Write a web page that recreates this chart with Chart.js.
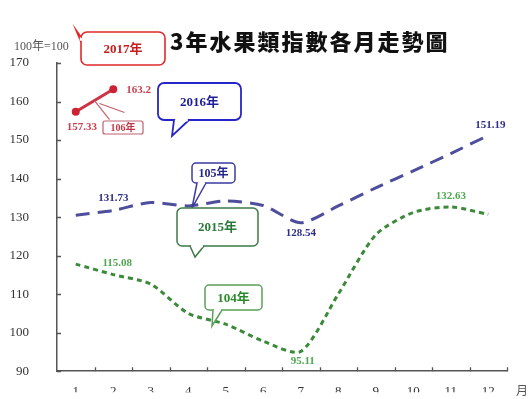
<!DOCTYPE html>
<html>
<head>
<meta charset="utf-8">
<script src="https://cdn.jsdelivr.net/npm/chart.js@4/dist/chart.umd.min.js"></script>
<style>
  html, body { margin: 0; padding: 0; background: #fff; }
  canvas { display: block; }
</style>
</head>
<body>
<canvas id="myChart" width="529" height="399"></canvas>
<script>
'use strict';

// months on the x axis
var months = ['1', '2', '3', '4', '5', '6', '7', '8', '9', '10', '11', '12'];
// y axis ticks
var yTicks = [90, 100, 110, 120, 130, 140, 150, 160, 170];

// fruit index by month (100年=100)
var idx104 = [117.8, 115.08, 112.6, 105.0, 102.2, 97.8, 95.11, 110.0, 125.4, 131.2, 132.63, 130.7];
var idx105 = [130.5, 131.73, 133.8, 132.9, 134.2, 133.0, 128.54, 132.9, 137.6, 142.0, 146.5, 151.19];
var idx106 = [157.33, 163.2];

// which points get a value printed next to them
var labels104 = [1, 6, 10];
var labels105 = [1, 6, 11];
var labels106 = [0, 1];

var serif = "'Liberation Serif', 'Noto Sans CJK TC', serif";

// short tick marks pointing into the plot
var innerTicks = {
  id: 'innerTicks',
  afterDraw: function (chart) {
    var ctx = chart.ctx, a = chart.chartArea;
    var y = chart.scales.y;
    ctx.save();
    ctx.strokeStyle = '#555';
    ctx.lineWidth = 1.3;
    ctx.beginPath();
    yTicks.forEach(function (v) {
      var py = Math.round(y.getPixelForValue(v)) + 0.5;
      ctx.moveTo(a.left, py);
      ctx.lineTo(a.left + 4, py);
    });
    var w = (a.right - a.left) / months.length;
    for (var i = 1; i <= months.length; i++) {
      var px = Math.round(a.left + i * w) + 0.5;
      ctx.moveTo(px, a.bottom);
      ctx.lineTo(px, a.bottom - 4);
    }
    ctx.stroke();
    ctx.restore();
  }
};

// value labels next to selected points
var valueLabels = {
  id: 'valueLabels',
  afterDatasetsDraw: function (chart) {
    var ctx = chart.ctx;
    var specs = [
      { ds: 0, idx: labels104, color: '#4fa64f', place: { 1: [4, -11], 6: [2, 10], 10: [0, -11] } },
      { ds: 1, idx: labels105, color: '#2e2e88', place: { 1: [0, -12], 6: [0, 10], 11: [2, -10] } },
      { ds: 2, idx: labels106, color: '#c8404f', place: { 0: [6, 15], 1: [13, 1] }, align: { 1: 'left' } }
    ];
    ctx.save();
    ctx.font = 'bold 11px ' + serif;
    ctx.textBaseline = 'middle';
    specs.forEach(function (s) {
      var meta = chart.getDatasetMeta(s.ds);
      var data = chart.data.datasets[s.ds].data;
      s.idx.forEach(function (i) {
        var pt = meta.data[i];
        var off = s.place[i];
        ctx.fillStyle = s.color;
        ctx.textAlign = (s.align && s.align[i]) || 'center';
        ctx.fillText(String(data[i]), pt.x + off[0], pt.y + off[1]);
      });
    });
    ctx.restore();
  }
};

// speech-bubble style notes
function bubble(ctx, b) {
  ctx.save();
  ctx.lineWidth = b.lw;
  ctx.strokeStyle = b.border;
  ctx.fillStyle = '#fff';
  ctx.beginPath();
  ctx.roundRect(b.x, b.y, b.w, b.h, b.r);
  ctx.fill();
  ctx.stroke();
  if (b.tail) {
    var t = b.tail;
    ctx.beginPath();
    ctx.moveTo(t[0], t[1]);
    ctx.lineTo(t[4], t[5]);
    ctx.lineTo(t[2], t[3]);
    ctx.closePath();
    ctx.fill();
    ctx.beginPath();
    ctx.moveTo(t[0], t[1]);
    ctx.lineTo(t[4], t[5]);
    ctx.lineTo(t[2], t[3]);
    ctx.stroke();
    // cover the border between the tail's base points
    ctx.strokeStyle = '#fff';
    ctx.lineWidth = b.lw + 1;
    ctx.beginPath();
    ctx.moveTo(t[0] + (t[0] === t[2] ? 0 : 1.2), t[1] + (t[1] === t[3] ? 0 : 1.2));
    ctx.lineTo(t[2] - (t[0] === t[2] ? 0 : 1.2), t[3] - (t[1] === t[3] ? 0 : 1.2));
    ctx.stroke();
  }
  ctx.fillStyle = b.color;
  ctx.font = 'bold ' + b.size + 'px ' + serif;
  ctx.textAlign = 'center';
  ctx.textBaseline = 'middle';
  ctx.fillText(b.text, b.x + b.w / 2, b.y + b.h / 2 + 1);
  ctx.restore();
}

var notes = {
  id: 'notes',
  afterDraw: function (chart) {
    var ctx = chart.ctx;
    var red = chart.getDatasetMeta(2).data;

    ctx.save();
    // title
    ctx.fillStyle = '#111';
    ctx.font = "900 22px 'Noto Sans CJK TC', sans-serif";
    ctx.letterSpacing = '2px';
    ctx.textBaseline = 'middle';
    ctx.textAlign = 'left';
    ctx.fillText('3年水果類指數各月走勢圖', 170, 42);
    ctx.letterSpacing = '0px';

    // base year note and x axis unit
    ctx.fillStyle = '#555';
    ctx.font = '12px ' + serif;
    ctx.fillText('100年=100', 14, 47);
    ctx.fillText('月', 516, 392);

    // leader from the 106年 line to its tag
    var mx = (red[0].x + red[1].x) / 2, my = (red[0].y + red[1].y) / 2;
    ctx.strokeStyle = '#c8606c';
    ctx.lineWidth = 1.2;
    ctx.beginPath();
    ctx.moveTo(mx, my);
    ctx.lineTo(mx + 15, my + 19);
    ctx.moveTo(mx + 5, my + 3);
    ctx.lineTo(mx + 30, my + 12);
    ctx.stroke();
    ctx.restore();

    bubble(ctx, { x: 103, y: 121, w: 40, h: 13, r: 2, lw: 1.2, border: '#c06070',
      color: '#c03848', size: 10, text: '106年' });
    bubble(ctx, { x: 81, y: 32, w: 84, h: 33, r: 6, lw: 1.6, border: '#e02a2a',
      color: '#c81e1e', size: 13, text: '2017年', tail: [81, 37, 81, 42, 76, 30] });
    bubble(ctx, { x: 158, y: 83, w: 83, h: 37, r: 6, lw: 1.8, border: '#2626c8',
      color: '#1e1e9a', size: 13, text: '2016年', tail: [174, 120, 189, 120, 172, 136] });
    bubble(ctx, { x: 192, y: 163, w: 43, h: 20, r: 4, lw: 1.5, border: '#3a3aa0',
      color: '#26268e', size: 12, text: '105年', tail: [197, 183, 206, 183, 192, 208] });
    bubble(ctx, { x: 177, y: 208, w: 81, h: 38, r: 5, lw: 1.5, border: '#3c7a48',
      color: '#2a7a3a', size: 13, text: '2015年', tail: [190, 246, 204, 246, 195, 257] });
    bubble(ctx, { x: 205, y: 285, w: 57, h: 25, r: 4, lw: 1.5, border: '#5aa05a',
      color: '#2a8a2a', size: 13, text: '104年', tail: [213, 310, 222, 310, 212, 326] });
  }
};

var ctx = document.getElementById('myChart').getContext('2d');
var chart = new Chart(ctx, {
  type: 'line',
  data: {
    labels: months,
    datasets: [
      {
        label: '104年',
        data: idx104,
        borderColor: '#3a8a3a',
        borderWidth: 3,
        borderDash: [5, 4],
        tension: 0.25,
        pointRadius: 0,
        fill: false
      },
      {
        label: '105年',
        data: idx105,
        borderColor: '#4e4e9c',
        borderWidth: 3,
        borderDash: [14, 8],
        tension: 0.25,
        pointRadius: 0,
        fill: false
      },
      {
        label: '106年',
        data: idx106,
        borderColor: '#cc3444',
        backgroundColor: '#cc2233',
        borderWidth: 3,
        pointRadius: 4,
        pointBorderWidth: 0,
        fill: false
      }
    ]
  },
  options: {
    responsive: false,
    devicePixelRatio: 1,
    animation: false,
    layout: { padding: { top: 63, right: 22, bottom: 0, left: 0 } },
    plugins: {
      legend: { display: false },
      title: { display: false },
      tooltip: { enabled: false }
    },
    scales: {
      x: {
        offset: true,
        grid: { display: false },
        border: { color: '#555', width: 1.5 },
        ticks: { color: '#333', padding: 5, font: { family: serif, size: 13 } },
        afterFit: function (s) { s.height = 21; }
      },
      y: {
        min: 90,
        max: 170,
        grid: { display: false },
        border: { color: '#555', width: 1.5 },
        ticks: {
          stepSize: 10,
          color: '#333',
          padding: 20,
          font: { family: serif, size: 13 }
        },
        afterFit: function (s) { s.width = 57; }
      }
    }
  },
  plugins: [innerTicks, valueLabels, notes]
});
</script>
</body>
</html>
